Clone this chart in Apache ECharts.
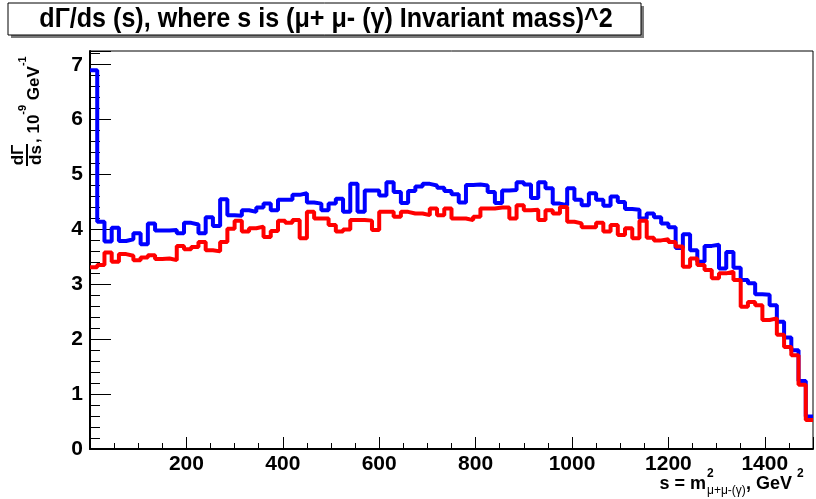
<!DOCTYPE html>
<html>
<head>
<meta charset="utf-8">
<script src="https://cdn.jsdelivr.net/npm/echarts@6/dist/echarts.min.js"></script>
<style>
  html, body { margin: 0; padding: 0; background: #fff; }
  #chart { width: 816px; height: 499px; }
</style>
</head>
<body>
<div id="chart"></div>
<script>
// histogram binning: 100 bins of 15 GeV^2 from 0 to 1500
const binStart = 0;
const binWidth = 15;

// dGamma/ds, 10^-9 GeV^-1, one value per bin
const blueVals = [
  6.90, 4.14, 3.78, 4.03, 3.79, 3.82, 3.93, 3.73, 4.11, 3.98, 3.98, 3.99, 3.93, 4.12, 4.09, 3.93, 4.22, 4.06, 4.55, 4.26,
  4.25, 4.35, 4.32, 4.40, 4.47, 4.35, 4.54, 4.54, 4.63, 4.66, 4.49, 4.47, 4.35, 4.47, 4.56, 4.32, 4.83, 4.32, 4.71, 4.71,
  4.62, 4.86, 4.68, 4.48, 4.70, 4.78, 4.83, 4.80, 4.76, 4.70, 4.64, 4.49, 4.81, 4.82, 4.80, 4.68, 4.48, 4.71, 4.72, 4.86,
  4.82, 4.57, 4.86, 4.75, 4.47, 4.44, 4.75, 4.54, 4.44, 4.66, 4.54, 4.43, 4.60, 4.50, 4.37, 4.36, 4.20, 4.29, 4.22, 4.11,
  4.04, 3.66, 3.91, 3.62, 3.41, 3.70, 3.72, 3.29, 3.59, 3.30, 3.08, 3.02, 2.82, 2.81, 2.62, 2.32, 2.03, 1.80, 1.24, 0.59
];
const redVals = [
  3.31, 3.35, 3.58, 3.41, 3.55, 3.52, 3.44, 3.49, 3.53, 3.46, 3.47, 3.44, 3.70, 3.64, 3.68, 3.77, 3.62, 3.60, 3.77, 4.01,
  4.16, 3.96, 4.02, 4.05, 3.86, 3.97, 4.16, 4.12, 4.17, 3.84, 4.32, 4.20, 4.20, 4.08, 3.96, 4.00, 4.17, 4.17, 4.16, 3.99,
  4.32, 4.32, 4.23, 4.32, 4.29, 4.29, 4.26, 4.38, 4.26, 4.38, 4.20, 4.20, 4.17, 4.23, 4.38, 4.38, 4.40, 4.40, 4.20, 4.44,
  4.35, 4.36, 4.17, 4.35, 4.29, 4.41, 4.14, 4.11, 4.04, 4.04, 4.12, 3.96, 4.08, 3.90, 4.02, 3.84, 4.16, 3.85, 3.80, 3.82,
  3.77, 3.69, 3.32, 3.47, 3.35, 3.26, 3.11, 3.20, 3.23, 3.08, 2.59, 2.68, 2.62, 2.35, 2.38, 2.08, 1.86, 1.71, 1.17, 0.53
];

const xTickLabels = ['200', '400', '600', '800', '1000', '1200', '1400'];
const yTickLabels = ['0', '1', '2', '3', '4', '5', '6', '7'];

const FONT = '"Liberation Sans", Arial, sans-serif';

// bin low edges + closing point so the last bin gets its top drawn
function histPoints(vals) {
  const pts = vals.map((v, i) => [binStart + i * binWidth, v]);
  pts.push([binStart + vals.length * binWidth, vals[vals.length - 1]]);
  return pts;
}

const chart = echarts.init(document.getElementById('chart'), null, { renderer: 'canvas' });

const labelStyle = { color: '#000', fontFamily: FONT, fontWeight: 'bold', fontSize: 21 };

chart.setOption({
  animation: false,
  backgroundColor: '#fff',
  grid: { left: 90, right: 3, top: 51, bottom: 50, show: true, borderColor: '#000', borderWidth: 1 },
  xAxis: [
    {
      type: 'value', min: 0, max: 1500, interval: 200, position: 'bottom',
      axisLine: { show: true, lineStyle: { color: '#000', width: 2 } },
      axisTick: { show: true, inside: true, length: 12, lineStyle: { color: '#000', width: 1 } },
      axisLabel: Object.assign({ margin: 5, formatter: v => xTickLabels.includes(String(v)) ? String(v) : '' }, labelStyle),
      splitLine: { show: false }
    },
    {
      type: 'value', min: 0, max: 1500, interval: 50, position: 'bottom',
      axisLine: { show: false },
      axisTick: { show: true, inside: true, length: 6, lineStyle: { color: '#000', width: 1 } },
      axisLabel: { show: false },
      splitLine: { show: false }
    }
  ],
  yAxis: [
    {
      type: 'value', min: 0, max: 7.25, interval: 1, position: 'left',
      axisLine: { show: true, lineStyle: { color: '#000', width: 2 } },
      axisTick: { show: true, inside: true, length: 21, lineStyle: { color: '#000', width: 1 } },
      axisLabel: Object.assign({ margin: 7, formatter: v => yTickLabels.includes(String(v)) ? String(v) : '' }, labelStyle),
      splitLine: { show: false }
    },
    {
      type: 'value', min: 0, max: 7.25, interval: 0.2, position: 'left',
      axisLine: { show: false },
      axisTick: { show: true, inside: true, length: 10, lineStyle: { color: '#000', width: 1 } },
      axisLabel: { show: false },
      splitLine: { show: false }
    }
  ],
  series: [
    {
      name: 'blue', type: 'line', step: 'end', xAxisIndex: 0, yAxisIndex: 0,
      data: histPoints(blueVals), showSymbol: false, symbol: 'none',
      lineStyle: { color: '#0000ff', width: 4 }, z: 3
    },
    {
      name: 'red', type: 'line', step: 'end', xAxisIndex: 0, yAxisIndex: 0,
      data: histPoints(redVals), showSymbol: false, symbol: 'none',
      lineStyle: { color: '#ff0000', width: 4 }, z: 4
    }
  ],
  graphic: [
    // title box with shadow
    { type: 'rect', shape: { x: 11, y: 6, width: 633, height: 32 }, style: { fill: '#7a7a7a' }, z: 10 },
    { type: 'rect', shape: { x: 8, y: 3, width: 633, height: 32 }, style: { fill: '#fff', stroke: '#000', lineWidth: 1 }, z: 11 },
    {
      type: 'text', x: 326, y: 20, z: 12, scaleX: 0.93,
      style: { text: 'd\u0393/ds (s), where s is (\u03bc+ \u03bc- (\u03b3) Invariant mass)^2', fill: '#000',
        font: 'bold 27px ' + FONT, align: 'center', verticalAlign: 'middle' }
    },
    // y axis title, rotated
    {
      type: 'group', x: 27, y: 166, rotation: Math.PI / 2, z: 12,
      children: [
        { type: 'text', x: 11, y: 0, style: { text: 'd\u0393', fill: '#000', font: 'bold 17px ' + FONT, align: 'center', verticalAlign: 'bottom' } },
        { type: 'line', shape: { x1: 0, y1: 0, x2: 22, y2: 0 }, style: { stroke: '#000', lineWidth: 2 } },
        { type: 'text', x: 11, y: 1, style: { text: 'ds', fill: '#000', font: 'bold 17px ' + FONT, align: 'center', verticalAlign: 'top' } },
        {
          type: 'text', x: 23, y: 3,
          style: {
            text: '{m|, 10}{s|-9}{m| GeV}{s|-1}', align: 'left', verticalAlign: 'middle', fill: '#000',
            rich: {
              m: { font: 'bold 17px ' + FONT, fill: '#000', verticalAlign: 'bottom', lineHeight: 26 },
              s: { font: 'bold 11px ' + FONT, fill: '#000', verticalAlign: 'top', lineHeight: 26 }
            }
          }
        }
      ]
    },
    // x axis title
    { type: 'text', x: 706, y: 484, z: 12, style: { text: 's = m', fill: '#000', font: 'bold 18px ' + FONT, align: 'right', verticalAlign: 'middle' } },
    { type: 'text', x: 707, y: 474, z: 12, style: { text: '2', fill: '#000', font: 'bold 12px ' + FONT, align: 'left', verticalAlign: 'middle' } },
    { type: 'text', x: 707, y: 491, z: 12, style: { text: '\u03bc+\u03bc-(\u03b3)', fill: '#000', font: '12px ' + FONT, align: 'left', verticalAlign: 'middle' } },
    { type: 'text', x: 746, y: 484, z: 12, style: { text: ', GeV', fill: '#000', font: 'bold 18px ' + FONT, align: 'left', verticalAlign: 'middle' } },
    { type: 'text', x: 797, y: 474, z: 12, style: { text: '2', fill: '#000', font: 'bold 12px ' + FONT, align: 'left', verticalAlign: 'middle' } }
  ]
});
</script>
</body>
</html>
